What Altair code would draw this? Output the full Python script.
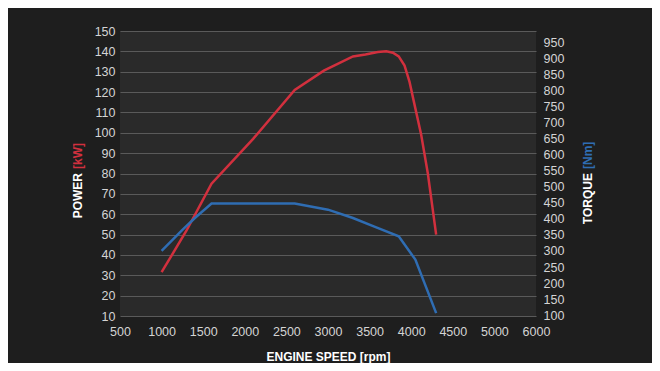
import altair as alt
import pandas as pd

# ---- data ----
power_rpm = [1000, 1300, 1600, 2100, 2600, 2950, 3300, 3450, 3600, 3700, 3780, 3850, 3920, 3980, 4050, 4120, 4200, 4300]
power_kw = [31.5, 52, 75, 97, 121, 130.5, 137.5, 138.5, 139.7, 140, 139.3, 137.5, 133, 125, 112, 99, 80, 50]

torque_rpm = [1000, 1250, 1400, 1600, 2600, 3000, 3300, 3550, 3850, 4050, 4300]
torque_nm = [300, 366, 403, 448, 448, 429, 403, 377, 346, 273, 106]

x_tick_labels = ["500", "1000", "1500", "2000", "2500", "3000", "3500", "4000", "4500", "5000", "6000"]
x_tick_positions = [500 + 500 * i for i in range(len(x_tick_labels))]
left_ticks = list(range(10, 151, 10))
right_ticks = list(range(100, 951, 50))

power_df = pd.DataFrame({"rpm": power_rpm, "power": power_kw})
torque_df = pd.DataFrame({"rpm": torque_rpm, "torque": torque_nm})

label_expr = " : ".join(
    f"datum.value == {p} ? '{l}'" for p, l in zip(x_tick_positions, x_tick_labels)
) + " : datum.label"

FONT = "Liberation Sans"
LABEL_COLOR = "#d4d4d4"
RED = "#d2303e"
BLUE = "#2f6db3"

x_enc = alt.X(
    "rpm:Q",
    scale=alt.Scale(domain=[x_tick_positions[0], x_tick_positions[-1]], nice=False, zero=False),
    axis=alt.Axis(
        values=x_tick_positions, labelExpr=label_expr, format="d", grid=False,
        domain=False, ticks=False, labelPadding=9, title="ENGINE SPEED [rpm]",
        titleFontWeight="bold", titleFontSize=12, titleColor="#ffffff", titlePadding=14,
        labelFontSize=12.5, labelColor=LABEL_COLOR, labelFont=FONT, titleFont=FONT,
        labelOverlap=False, labelBound=False, labelFlush=False,
    ),
)

power = alt.Chart(power_df).mark_line(color=RED, strokeWidth=2.5).encode(
    x=x_enc,
    y=alt.Y(
        "power:Q",
        scale=alt.Scale(domain=[10, 150], nice=False, zero=False),
        axis=alt.Axis(
            values=left_ticks, grid=True, gridColor="#5a5a5a", gridWidth=1,
            domain=False, ticks=False, labelPadding=5, title=None, labelOverlap=False,
            labelFontSize=12.5, labelColor=LABEL_COLOR, labelFont=FONT, orient="left",
        ),
    ),
)

torque = alt.Chart(torque_df).mark_line(color=BLUE, strokeWidth=2.5).encode(
    x=alt.X("rpm:Q"),
    y=alt.Y(
        "torque:Q",
        scale=alt.Scale(domain=[97, 987], nice=False, zero=False),
        axis=alt.Axis(
            values=right_ticks, grid=False, domain=False, ticks=False, labelPadding=7,
            title=None, labelFontSize=12.5, labelColor=LABEL_COLOR, labelFont=FONT,
            orient="right", labelOverlap=False,
        ),
    ),
)

def vtitle(text, color, x, y, align):
    return alt.Chart(pd.DataFrame({"t": [text]})).mark_text(
        angle=270, align=align, baseline="middle", font=FONT, fontSize=12,
        fontWeight="bold", color=color,
    ).encode(text="t:N", x=alt.value(x), y=alt.value(y))

titles = [
    vtitle("POWER", "#ffffff", -42, 142, "right"),
    vtitle("[kW]", RED, -42, 138, "left"),
    vtitle("TORQUE", "#ffffff", 468, 142, "right"),
    vtitle("[Nm]", BLUE, 468, 138, "left"),
]

chart = alt.layer(power, torque, *titles).resolve_scale(y="independent").properties(
    width=416,
    height=285,
    background="#1e1e1e",
    padding={"left": 112, "top": 23, "right": 116, "bottom": 47},
    autosize=alt.AutoSizeParams(type="none"),
).configure_view(fill="#2a2a2a", stroke=None)

chart.save("out.html", embed_options={"renderer": "svg", "actions": False})
